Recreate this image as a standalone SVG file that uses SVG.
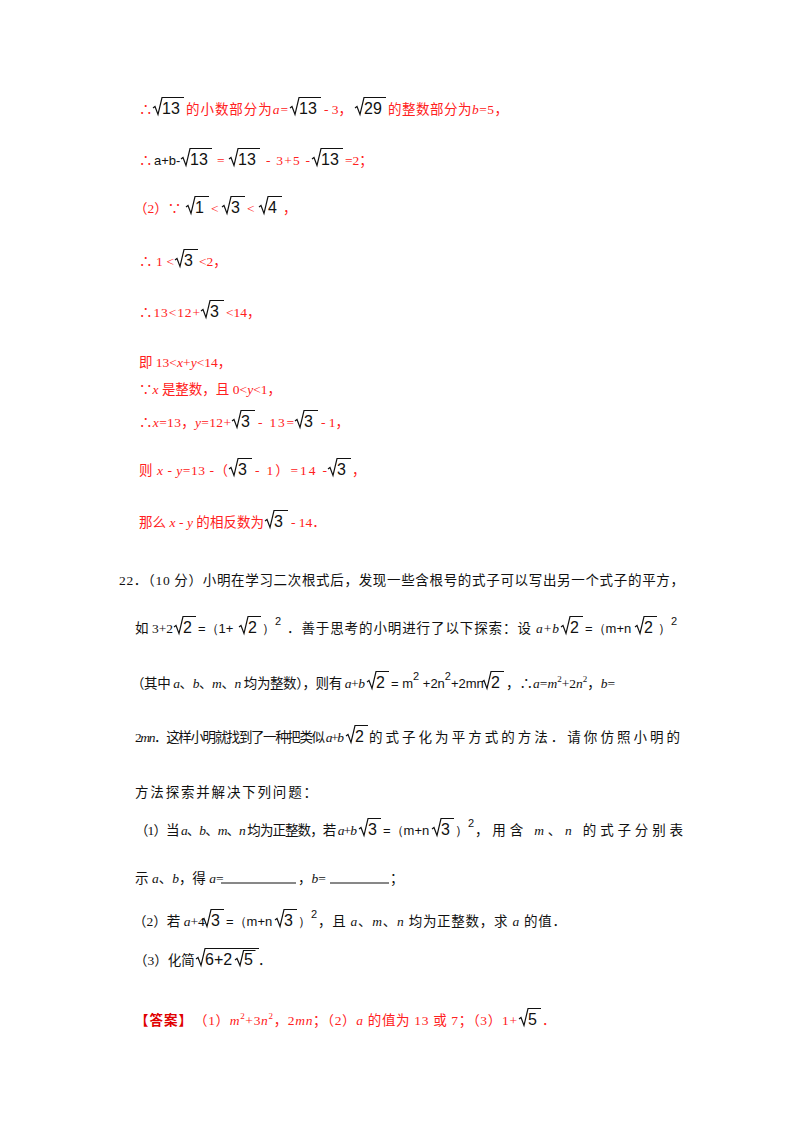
<svg xmlns="http://www.w3.org/2000/svg" width="800" height="1132" viewBox="0 0 800 1132">
<style>
text{font-family:"Liberation Serif","Noto Sans CJK SC",serif;font-size:13.5px}
.r{fill:#ff2020}
.k{fill:#111}
.s{font-family:"Liberation Sans",sans-serif;font-size:16px;fill:#111}
.ss{font-family:"Liberation Sans",sans-serif;font-size:13px;fill:#111}
.i{font-style:italic}
.q{fill:none;stroke:#111;stroke-width:1.2}
.u{stroke:#111;stroke-width:1}
.d{fill:#e00000}
</style>
<rect width="800" height="1132" fill="#fff"/>
<g id="solution">
<text class="r" x="139" y="114">∴</text>
<path class="q" d="M153,108 l2,-1.5 l3,8 l4,-17 h22"/><text class="s" x="162" y="114">13</text>
<text class="r" x="186" y="114" textLength="102" lengthAdjust="spacing">的小数部分为<tspan class="i">a</tspan>=</text>
<path class="q" d="M290,108 l2,-1.5 l3,8 l4,-17 h22"/><text class="s" x="299" y="114">13</text>
<text class="r" x="324" y="114">- 3，</text>
<path class="q" d="M355,108 l2,-1.5 l3,8 l4,-17 h22"/><text class="s" x="364" y="114">29</text>
<text class="r" x="388" y="114" textLength="120" lengthAdjust="spacing">的整数部分为<tspan class="i">b</tspan>=5，</text>
<text class="r" x="139" y="165">∴</text>
<text class="ss" x="154" y="165">a+b-</text>
<path class="q" d="M181,159 l2,-1.5 l3,8 l4,-17 h22"/><text class="s" x="190" y="165">13</text>
<text class="r" x="217" y="165">=</text>
<path class="q" d="M229,159 l2,-1.5 l3,8 l4,-17 h22"/><text class="s" x="238" y="165">13</text>
<text class="r" x="266" y="165" textLength="44" lengthAdjust="spacing">- 3+5 -</text>
<path class="q" d="M312,159 l2,-1.5 l3,8 l4,-17 h22"/><text class="s" x="321" y="165">13</text>
<text class="r" x="345" y="165">=2；</text>
<text class="r" x="134" y="213" font-size="12.5">（2）∵</text>
<path class="q" d="M186,207 l2,-1.5 l3,8 l4,-17 h14"/><text class="s" x="195" y="213">1</text>
<text class="r" x="211" y="213">&lt;</text>
<path class="q" d="M222,207 l2,-1.5 l3,8 l4,-17 h14"/><text class="s" x="231" y="213">3</text>
<text class="r" x="247" y="213">&lt;</text>
<path class="q" d="M259,207 l2,-1.5 l3,8 l4,-17 h14"/><text class="s" x="268" y="213">4</text>
<text class="r" x="283" y="213">，</text>
<text class="r" x="139" y="266" textLength="35" lengthAdjust="spacing">∴1&lt;</text>
<path class="q" d="M175,260 l2,-1.5 l3,8 l4,-17 h14"/><text class="s" x="184" y="266">3</text>
<text class="r" x="199" y="266">&lt;2，</text>
<text class="r" x="139" y="317" textLength="61" lengthAdjust="spacing">∴13&lt;12+</text>
<path class="q" d="M201,311 l2,-1.5 l3,8 l4,-17 h14"/><text class="s" x="210" y="317">3</text>
<text class="r" x="226" y="317">&lt;14，</text>
<text class="r" x="139" y="367">即 13&lt;<tspan class="i">x</tspan>+<tspan class="i">y</tspan>&lt;14，</text>
<text class="r" x="139" y="394">∵<tspan class="i">x</tspan> 是整数，且 0&lt;<tspan class="i">y</tspan>&lt;1，</text>
<text class="r" x="139" y="427" textLength="92" lengthAdjust="spacing">∴<tspan class="i">x</tspan>=13，<tspan class="i">y</tspan>=12+</text>
<path class="q" d="M232,421 l2,-1.5 l3,8 l4,-17 h14"/><text class="s" x="241" y="427">3</text>
<text class="r" x="258" y="427" textLength="36" lengthAdjust="spacing">- 13=</text>
<path class="q" d="M295,421 l2,-1.5 l3,8 l4,-17 h14"/><text class="s" x="304" y="427">3</text>
<text class="r" x="321" y="427">- 1，</text>
<text class="r" x="139" y="475" textLength="89" lengthAdjust="spacing">则 <tspan class="i">x</tspan> - <tspan class="i">y</tspan>=13 -（</text>
<path class="q" d="M229,469 l2,-1.5 l3,8 l4,-17 h14"/><text class="s" x="238" y="475">3</text>
<text class="r" x="255" y="475" textLength="72" lengthAdjust="spacing">- 1）=14 -</text>
<path class="q" d="M328,469 l2,-1.5 l3,8 l4,-17 h14"/><text class="s" x="337" y="475">3</text>
<text class="r" x="352" y="475">，</text>
<text class="r" x="139" y="527" textLength="125" lengthAdjust="spacing">那么 <tspan class="i">x</tspan> - <tspan class="i">y</tspan> 的相反数为</text>
<path class="q" d="M265,521 l2,-1.5 l3,8 l4,-17 h14"/><text class="s" x="274" y="527">3</text>
<text class="r" x="291" y="527">- 14．</text>
</g>
<g id="problem">
<text class="k" x="119" y="585" textLength="565" lengthAdjust="spacing">22．（10 分）小明在学习二次根式后，发现一些含根号的式子可以写出另一个式子的平方，</text>
<text class="k" x="135" y="633" textLength="38" lengthAdjust="spacing">如 3+2</text>
<path class="q" d="M174,627 l2,-1.5 l3,8 l4,-17 h13"/><text class="s" x="183" y="633">2</text>
<text class="ss" x="198" y="633">=（1+</text>
<path class="q" d="M239,627 l2,-1.5 l3,8 l4,-17 h13"/><text class="s" x="248" y="633">2</text>
<text class="ss" x="262" y="633">）<tspan dy="-8" font-size="11">2</tspan></text>
<text class="k" x="287" y="633" textLength="272" lengthAdjust="spacing">．善于思考的小明进行了以下探索：设 <tspan class="i">a</tspan>+<tspan class="i">b</tspan></text>
<path class="q" d="M561,627 l2,-1.5 l3,8 l4,-17 h13"/><text class="s" x="570" y="633">2</text>
<text class="ss" x="585" y="633">=（m+n</text>
<path class="q" d="M635,627 l2,-1.5 l3,8 l4,-17 h13"/><text class="s" x="644" y="633">2</text>
<text class="ss" x="658" y="633">）<tspan dy="-8" font-size="11">2</tspan></text>
<text class="k" x="131" y="688" textLength="234" lengthAdjust="spacing">（其中 <tspan class="i">a</tspan>、<tspan class="i">b</tspan>、<tspan class="i">m</tspan>、<tspan class="i">n</tspan> 均为整数），则有 <tspan class="i">a</tspan>+<tspan class="i">b</tspan></text>
<path class="q" d="M367,682 l2,-1.5 l3,8 l4,-17 h13"/><text class="s" x="376" y="688">2</text>
<text class="ss" x="391" y="688">= m<tspan dy="-8" font-size="11">2</tspan><tspan dy="8"> +2n</tspan><tspan dy="-8" font-size="11">2</tspan><tspan dy="8">+2mn</tspan></text>
<path class="q" d="M482,682 l2,-1.5 l3,8 l4,-17 h13"/><text class="s" x="491" y="688">2</text>
<text class="k" x="506" y="688">，∴<tspan class="i">a</tspan>=<tspan class="i">m</tspan><tspan dy="-6" font-size="9">2</tspan><tspan dy="6">+2</tspan><tspan class="i">n</tspan><tspan dy="-6" font-size="9">2</tspan><tspan dy="6">，</tspan><tspan class="i">b</tspan>=</text>
<text class="k" x="135" y="742" font-size="12.5" textLength="209" lengthAdjust="spacing">2<tspan class="i">mn</tspan>．这样小明就找到了一种把类似 <tspan class="i">a</tspan>+<tspan class="i">b</tspan></text>
<path class="q" d="M346,736 l2,-1.5 l3,8 l4,-17 h13"/><text class="s" x="355" y="742">2</text>
<text class="k" x="369" y="742" textLength="311" lengthAdjust="spacing">的式子化为平方式的方法．请你仿照小明的</text>
<text class="k" x="135" y="797" textLength="182" lengthAdjust="spacing">方法探索并解决下列问题：</text>
<text class="k" x="135" y="835" font-size="12.5" textLength="222" lengthAdjust="spacing">（1）当 <tspan class="i">a</tspan>、<tspan class="i">b</tspan>、<tspan class="i">m</tspan>、<tspan class="i">n</tspan> 均为正整数，若 <tspan class="i">a</tspan>+<tspan class="i">b</tspan></text>
<path class="q" d="M359,829 l2,-1.5 l3,8 l4,-17 h13"/><text class="s" x="368" y="835">3</text>
<text class="ss" x="383" y="835">=（m+n</text>
<path class="q" d="M432,829 l2,-1.5 l3,8 l4,-17 h13"/><text class="s" x="441" y="835">3</text>
<text class="ss" x="455" y="835">）<tspan dy="-8" font-size="11">2</tspan></text>
<text class="k" x="475" y="835" textLength="208" lengthAdjust="spacing">，用含 <tspan class="i">m</tspan>、<tspan class="i">n</tspan> 的式子分别表</text>
<text class="k" x="135" y="883" font-size="12.5">示 <tspan class="i">a</tspan>、<tspan class="i">b</tspan>，得 <tspan class="i">a</tspan>=</text>
<line class="u" x1="221" y1="883" x2="296" y2="883"/>
<text class="k" x="298" y="883">，<tspan class="i">b</tspan>=</text>
<line class="u" x1="330" y1="883" x2="389" y2="883"/>
<text class="k" x="390" y="883">；</text>
<text class="k" x="133" y="926" font-size="12">（2）若 <tspan class="i">a</tspan>+4</text>
<path class="q" d="M202,920 l2,-1.5 l3,8 l4,-17 h13"/><text class="s" x="211" y="926">3</text>
<text class="ss" x="226" y="926">=（m+n</text>
<path class="q" d="M275,920 l2,-1.5 l3,8 l4,-17 h13"/><text class="s" x="284" y="926">3</text>
<text class="ss" x="298" y="926">）<tspan dy="-8" font-size="11">2</tspan></text>
<text class="k" x="318" y="926" textLength="248" lengthAdjust="spacing">，且 <tspan class="i">a</tspan>、<tspan class="i">m</tspan>、<tspan class="i">n</tspan> 均为正整数，求 <tspan class="i">a</tspan> 的值．</text>
<text class="k" x="134" y="965" font-size="13">（3）化简</text>
<path class="q" d="M196,959 l2,-1.5 l3,8 l4,-17 h54"/><text class="s" x="205" y="965">6+2</text>
<path class="q" d="M235,960 l2,-1.5 l3,7 l3.5,-15 h12"/><text class="s" x="244" y="965">5</text>
<text class="k" x="258" y="965">．</text>
</g>
<g id="answer">
<text class="d" x="135" y="1025" font-weight="bold" textLength="57" lengthAdjust="spacing">【答案】</text>
<text x="194" y="1025" textLength="323" lengthAdjust="spacing"><tspan class="r">（1）</tspan><tspan class="r i">m</tspan><tspan class="r" dy="-6" font-size="9">2</tspan><tspan class="r" dy="6">+3</tspan><tspan class="r i">n</tspan><tspan class="r" dy="-6" font-size="9">2</tspan><tspan class="r" dy="6">，2</tspan><tspan class="r i">mn</tspan><tspan class="r">；（2）</tspan><tspan class="r i">a</tspan><tspan class="r"> 的值为 13 或 7；（3）1+</tspan></text>
<path class="q" d="M519,1019 l2,-1.5 l3,8 l4,-17 h13"/><text class="s" x="528" y="1025">5</text>
<text class="r" x="542" y="1025">．</text>
</g>
</svg>
